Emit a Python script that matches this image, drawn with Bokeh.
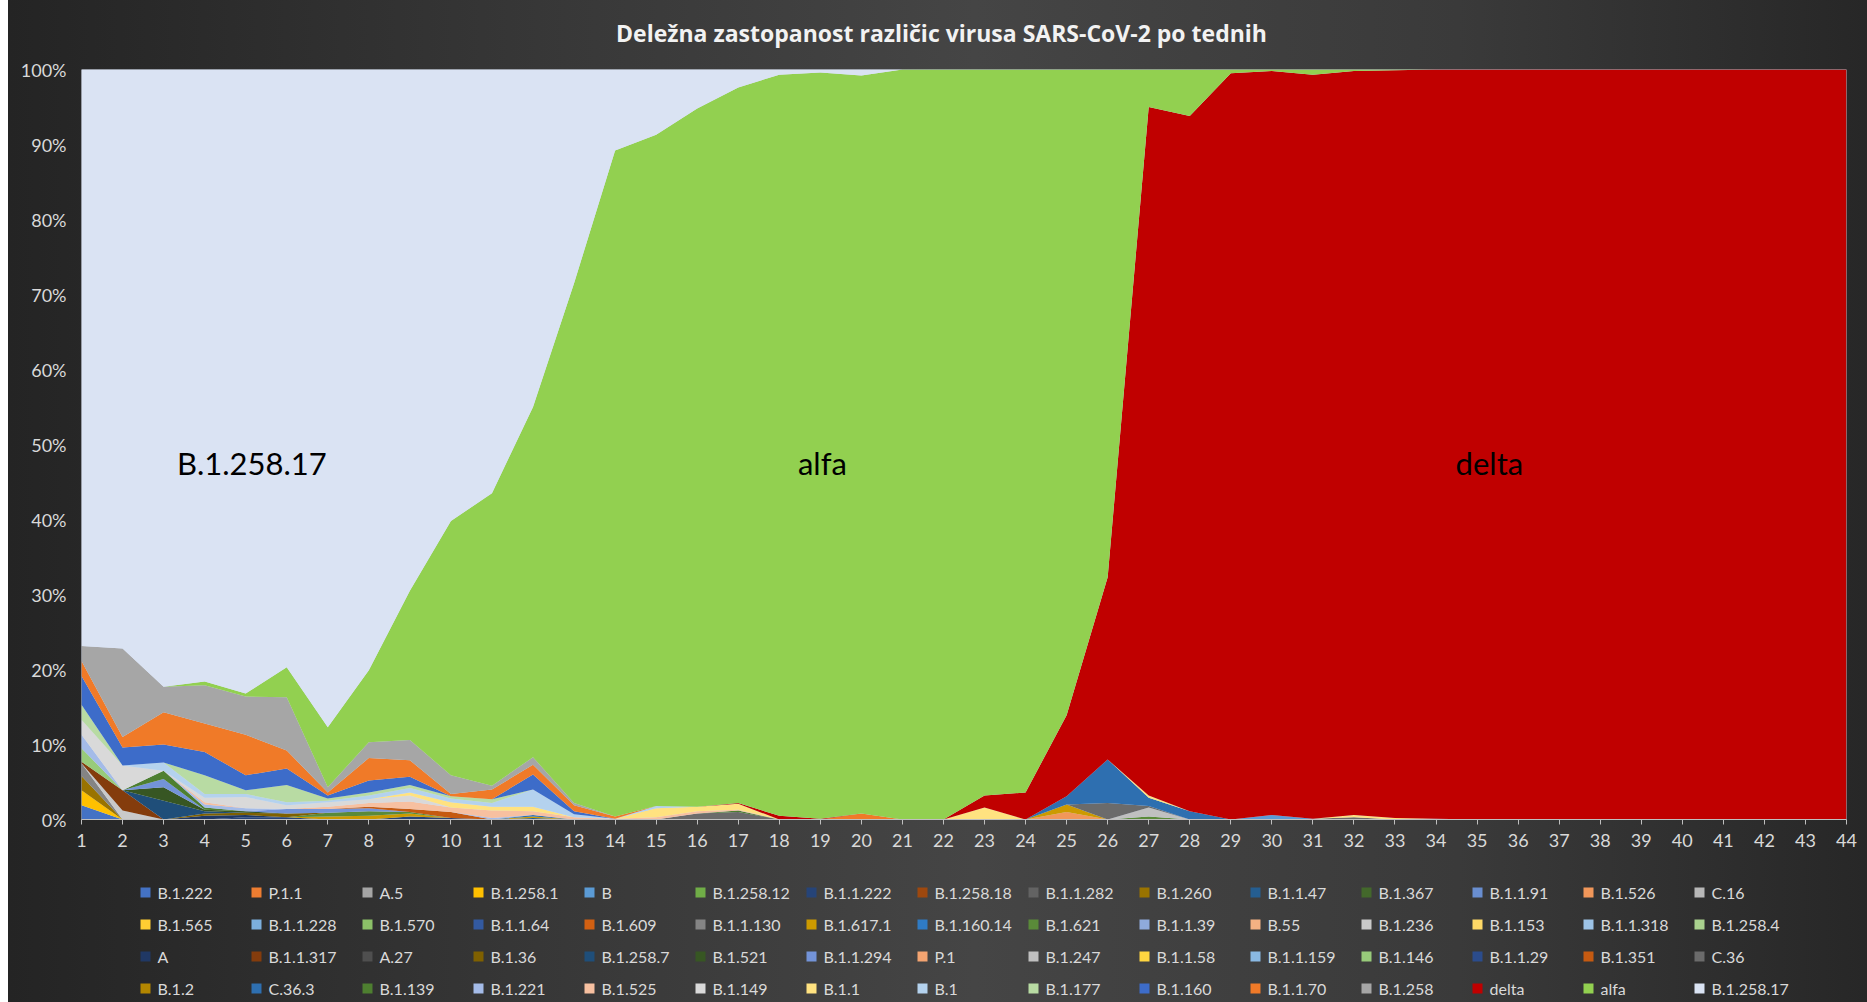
from bokeh.plotting import figure
from bokeh.models import ColumnDataSource, FixedTicker, NumeralTickFormatter, Range1d
from bokeh.layouts import column
from bokeh.embed import file_html
from bokeh.resources import INLINE
from bokeh.core.properties import value

# ---------------- data (percent of sequenced samples per week) ----------------
weeks = list(range(1, 45))
y_ticks = [0.0, 0.1, 0.2, 0.3, 0.4, 0.5, 0.6, 0.7, 0.8, 0.9, 1.0]
title_text = "Deležna zastopanost različic virusa SARS-CoV-2 po tednih"

variant_names = [
    "B.1.222", "P.1.1", "A.5", "B.1.258.1", "B", "B.1.258.12", "B.1.1.222", "B.1.258.18",
    "B.1.1.282", "B.1.260", "B.1.1.47", "B.1.367", "B.1.1.91", "B.1.526", "C.16",
    "B.1.565", "B.1.1.228", "B.1.570", "B.1.1.64", "B.1.609", "B.1.1.130", "B.1.617.1",
    "B.1.160.14", "B.1.621", "B.1.1.39", "B.55", "B.1.236", "B.1.153", "B.1.1.318", "B.1.258.4",
    "A", "B.1.1.317", "A.27", "B.1.36", "B.1.258.7", "B.1.521", "B.1.1.294", "P.1",
    "B.1.247", "B.1.1.58", "B.1.1.159", "B.1.146", "B.1.1.29", "B.1.351", "C.36",
    "B.1.2", "C.36.3", "B.1.139", "B.1.221", "B.1.525", "B.1.149", "B.1.1", "B.1",
    "B.1.177", "B.1.160", "B.1.1.70", "B.1.258", "delta", "alfa", "B.1.258.17",
]

# sparse weekly shares {week: percent}; weeks not listed are 0
v_b_1_222 = {1: 1.9}
v_p_1_1 = {}
v_a_5 = {}
v_b_1_258_1 = {1: 2.0}
v_b = {30: 0.6, 31: 0.1, 34: 0.1}
v_b_1_258_12 = {}
v_b_1_1_222 = {5: 0.3, 6: 0.3, 9: 0.4, 10: 0.2}
v_b_1_258_18 = {}
v_b_1_1_282 = {}
v_b_1_260 = {1: 1.9}
v_b_1_1_47 = {12: 0.2}
v_b_1_367 = {}
v_b_1_1_91 = {}
v_b_1_526 = {25: 1.0}
v_c_16 = {}
v_b_1_565 = {}
v_b_1_1_228 = {}
v_b_1_570 = {}
v_b_1_1_64 = {}
v_b_1_609 = {}
v_b_1_1_130 = {1: 1.7}
v_b_1_617_1 = {7: 0.4, 8: 0.5, 9: 0.4, 12: 0.2, 25: 1.0}
v_b_1_160_14 = {}
v_b_1_621 = {7: 0.5, 8: 0.6, 9: 0.2, 27: 0.4}
v_b_1_1_39 = {}
v_b_55 = {}
v_b_1_236 = {2: 1.2}
v_b_1_153 = {}
v_b_1_1_318 = {}
v_b_1_258_4 = {}
v_a = {4: 0.5, 5: 0.3}
v_b_1_1_317 = {1: 0.2, 2: 2.7}
v_a_27 = {}
v_b_1_36 = {4: 0.3, 5: 0.3, 6: 0.5}
v_b_1_258_7 = {3: 2.5, 4: 0.3}
v_b_1_521 = {3: 1.8, 4: 0.2, 5: 0.2}
v_b_1_1_294 = {3: 1.1, 6: 0.6, 7: 0.5, 8: 0.4}
v_p_1 = {}
v_b_1_247 = {27: 1.2}
v_b_1_1_58 = {}
v_b_1_1_159 = {}
v_b_1_146 = {1: 1.8}
v_b_1_1_29 = {}
v_b_1_351 = {8: 0.2, 9: 0.4, 10: 0.8}
v_c_36 = {16: 0.8, 17: 1.0, 26: 2.2, 27: 0.2, 32: 0.3}
v_b_1_2 = {}
v_c_36_3 = {12: 0.2, 25: 1.1, 26: 5.8, 27: 1.1, 28: 1.1}
v_b_1_139 = {3: 1.1, 4: 0.3, 17: 0.2}
v_b_1_221 = {1: 1.8, 4: 0.4, 5: 0.4, 11: 0.2}
v_b_1_525 = {4: 0.3, 7: 0.3, 8: 0.5, 9: 1.0, 10: 0.6, 11: 1.0, 12: 0.5, 13: 0.3, 14: 0.1,
             15: 0.3, 16: 0.3, 17: 0.1}
v_b_1_149 = {1: 2.0, 2: 3.3, 4: 0.6, 5: 1.5, 6: 0.5, 7: 0.6, 8: 0.5, 9: 0.8}
v_b_1_1 = {9: 0.4, 10: 0.7, 11: 0.5, 12: 0.6, 15: 1.2, 16: 0.6, 17: 0.8, 23: 1.6, 27: 0.3,
           32: 0.3, 33: 0.2}
v_b_1 = {3: 1.1, 4: 0.5, 5: 0.4, 6: 0.4, 7: 0.2, 8: 0.5, 9: 0.6, 10: 0.5, 11: 0.5, 12: 2.3,
         13: 0.4, 15: 0.3}
v_b_1_177 = {1: 2.0, 4: 2.5, 5: 0.5, 6: 2.3, 7: 0.3, 8: 0.4, 9: 0.4, 10: 0.3, 11: 0.5}
v_b_1_160 = {1: 3.8, 2: 2.4, 3: 2.4, 4: 3.1, 5: 2.0, 6: 2.2, 7: 0.4, 8: 1.6, 9: 1.1, 12: 2.0,
             13: 0.4}
v_b_1_1_70 = {1: 2.0, 2: 1.4, 3: 4.3, 4: 3.8, 5: 5.4, 6: 2.4, 7: 0.4, 8: 3.0, 9: 2.2, 10: 0.3,
              11: 1.3, 12: 1.3, 13: 0.8, 14: 0.3, 20: 0.8}
v_b_1_258 = {1: 2.0, 2: 11.8, 3: 3.4, 4: 5.1, 5: 5.1, 6: 7.1, 7: 0.7, 8: 2.1, 9: 2.7, 10: 2.5,
             11: 0.5, 12: 1.0, 13: 0.3}
v_delta = {17: 0.1, 18: 0.5, 19: 0.1, 23: 1.6, 24: 3.6, 25: 10.8, 26: 24.3, 27: 91.8,
           28: 92.7, 29: 99.5, 30: 99.2, 31: 99.2, 32: 99.2, 33: 99.7, 34: 99.9, 35: 100,
           36: 100, 37: 100, 38: 100, 39: 100, 40: 100, 41: 100, 42: 100, 43: 100, 44: 100}
v_alfa = {4: 0.5, 5: 0.4, 6: 4.0, 7: 8.0, 8: 9.6, 9: 19.9, 10: 33.9, 11: 39.0, 12: 46.7,
          13: 69.3, 14: 88.8, 15: 89.5, 16: 93.1, 17: 95.4, 18: 98.8, 19: 99.5, 20: 98.4,
          21: 100, 22: 100, 23: 96.8, 24: 96.4, 25: 86.1, 26: 67.7, 27: 5.0, 28: 6.2,
          29: 0.5, 30: 0.2, 31: 0.7, 32: 0.2, 33: 0.1}
v_b_1_258_17 = {1: 76.8, 2: 77.2, 3: 82.3, 4: 81.6, 5: 83.2, 6: 79.7, 7: 87.7, 8: 80.1,
                9: 69.5, 10: 60.2, 11: 56.5, 12: 45.0, 13: 28.5, 14: 10.8, 15: 8.7, 16: 5.2,
                17: 2.4, 18: 0.7, 19: 0.4, 20: 0.8}

variant_shares = [
    v_b_1_222, v_p_1_1, v_a_5, v_b_1_258_1, v_b, v_b_1_258_12, v_b_1_1_222, v_b_1_258_18,
    v_b_1_1_282, v_b_1_260, v_b_1_1_47, v_b_1_367, v_b_1_1_91, v_b_1_526, v_c_16,
    v_b_1_565, v_b_1_1_228, v_b_1_570, v_b_1_1_64, v_b_1_609, v_b_1_1_130, v_b_1_617_1,
    v_b_1_160_14, v_b_1_621, v_b_1_1_39, v_b_55, v_b_1_236, v_b_1_153, v_b_1_1_318, v_b_1_258_4,
    v_a, v_b_1_1_317, v_a_27, v_b_1_36, v_b_1_258_7, v_b_1_521, v_b_1_1_294, v_p_1,
    v_b_1_247, v_b_1_1_58, v_b_1_1_159, v_b_1_146, v_b_1_1_29, v_b_1_351, v_c_36,
    v_b_1_2, v_c_36_3, v_b_1_139, v_b_1_221, v_b_1_525, v_b_1_149, v_b_1_1, v_b_1,
    v_b_1_177, v_b_1_160, v_b_1_1_70, v_b_1_258, v_delta, v_alfa, v_b_1_258_17,
]

# area labels (text, week, share)
area_label_text = ["B.1.258.17", "alfa", "delta"]
area_label_week = [5.15, 19.05, 35.3]
area_label_share = [0.476, 0.476, 0.476]

# ---------------- styles ----------------
variant_colors = [
    "#4472C4", "#ED7D31", "#A5A5A5", "#FFC000", "#5B9BD5", "#70AD47", "#264478", "#9E480E",
    "#636363", "#997300", "#255E91", "#43682B", "#698ED0", "#F1975A", "#B7B7B7",
    "#FFCD33", "#7CAFDD", "#8CC168", "#335AA1", "#D26012", "#848484", "#CC9A00",
    "#2F7BC4", "#5A8A39", "#8FAADC", "#F4B183", "#C9C9C9", "#FFD966", "#9DC3E6", "#A9D18E",
    "#203864", "#843C0C", "#4F4F4F", "#7F6000", "#1F4E79", "#375623", "#7393D8", "#F4A471",
    "#C0C0C0", "#FFD640", "#8AB9E3", "#98CB7A", "#2B4C8C", "#C55A11", "#6B6B6B",
    "#B38600", "#2E6FB0", "#4E7F30", "#A4BBE8", "#F7C0A0", "#D9D9D9", "#FFE280", "#B4D2EE",
    "#B8DBA3", "#3D6CC9", "#F07A28", "#A6A6A6", "#C00000", "#92D050", "#DAE3F3",
]
TXT = "#d9d9d9"

# ---------------- build data source ----------------
series_full = [[s.get(w, 0.0) for w in weeks] for s in variant_shares]
totals = [sum(col) for col in zip(*series_full)]
data = {"week": weeks}
for name, s in zip(variant_names, series_full):
    data[name] = [v / t for v, t in zip(s, totals)]
src = ColumnDataSource(data)

W = 1859
# page x of the (column-aligned) plot frame edges
FRAME_L, FRAME_R = 81, 1846


def blank_fig(h):
    # frames in a column are aligned with the main chart's frame, so map x to page pixels
    f = figure(width=W, height=h, x_range=Range1d(FRAME_L, FRAME_R), y_range=Range1d(h, 0),
               toolbar_location=None, output_backend="svg",
               x_axis_type=None, y_axis_type=None,
               min_border_left=73, min_border_right=21, min_border_top=0, min_border_bottom=0)
    f.border_fill_alpha = 0
    f.background_fill_alpha = 0
    f.outline_line_color = None
    f.grid.visible = False
    return f


# ---------------- header (title) ----------------
HH = 50
head = blank_fig(HH)
head.text(x=[941], y=[32], text=[title_text], text_align="center", text_baseline="middle",
          text_color="#f2f2f2", text_font=value("Open Sans"), text_font_style="bold",
          text_font_size="23px")

# ---------------- main chart ----------------
MH = 820
p = figure(width=W, height=MH, x_range=Range1d(1, 44), y_range=Range1d(0, 1),
           toolbar_location=None, output_backend="svg",
           min_border_left=73, min_border_right=21, min_border_top=19, min_border_bottom=51)
p.border_fill_alpha = 0
p.background_fill_color = "#DAE3F3"
p.outline_line_color = None
p.grid.visible = False

p.varea_stack(stackers=variant_names, x="week", color=variant_colors, source=src)

p.xaxis.ticker = FixedTicker(ticks=weeks)
p.xaxis.axis_line_color = "#bfbfbf"
p.xaxis.major_tick_line_color = "#bfbfbf"
p.xaxis.major_tick_out = 5
p.xaxis.major_tick_in = 0
p.xaxis.minor_tick_line_color = None
p.xaxis.major_label_standoff = 9
p.xaxis.major_label_text_font = "Lato"
p.xaxis.major_label_text_font_size = "18px"
p.xaxis.major_label_text_color = TXT

p.yaxis.ticker = FixedTicker(ticks=y_ticks)
p.yaxis.formatter = NumeralTickFormatter(format="0%")
p.yaxis.axis_line_color = None
p.yaxis.major_tick_line_color = None
p.yaxis.minor_tick_line_color = None
p.yaxis.major_tick_out = 0
p.yaxis.major_tick_in = 0
p.yaxis.major_label_standoff = 15
p.yaxis.major_label_text_font = "Lato"
p.yaxis.major_label_text_font_size = "18px"
p.yaxis.major_label_text_color = TXT

p.text(x=area_label_week, y=area_label_share, text=area_label_text,
       text_align="center", text_baseline="middle", text_color="#000000",
       text_font=value("Lato"), text_font_size="31px")

# ---------------- legend (15 columns x 4 rows) ----------------
LH = 132
leg = blank_fig(LH)
n_cols = 15
mx = [145 + 111 * (i % n_cols) for i in range(len(variant_names))]
my = [22 + 32 * (i // n_cols) for i in range(len(variant_names))]
tx = [x + 12 for x in mx]
leg.rect(x=mx, y=my, width=10, height=10, fill_color=variant_colors, line_color=None)
leg.text(x=tx, y=my, text=variant_names, text_align="left", text_baseline="middle",
         text_color=TXT, text_font=value("Lato"), text_font_size="16px")

layout = column(head, p, leg, styles={
    "margin-left": "8px",
    "background": "linear-gradient(to right, #242424 0%, #383838 30%, #454545 52%, #3a3a3a 78%, #272727 100%)"
})

open("out.html", "w").write(file_html(layout, INLINE))
